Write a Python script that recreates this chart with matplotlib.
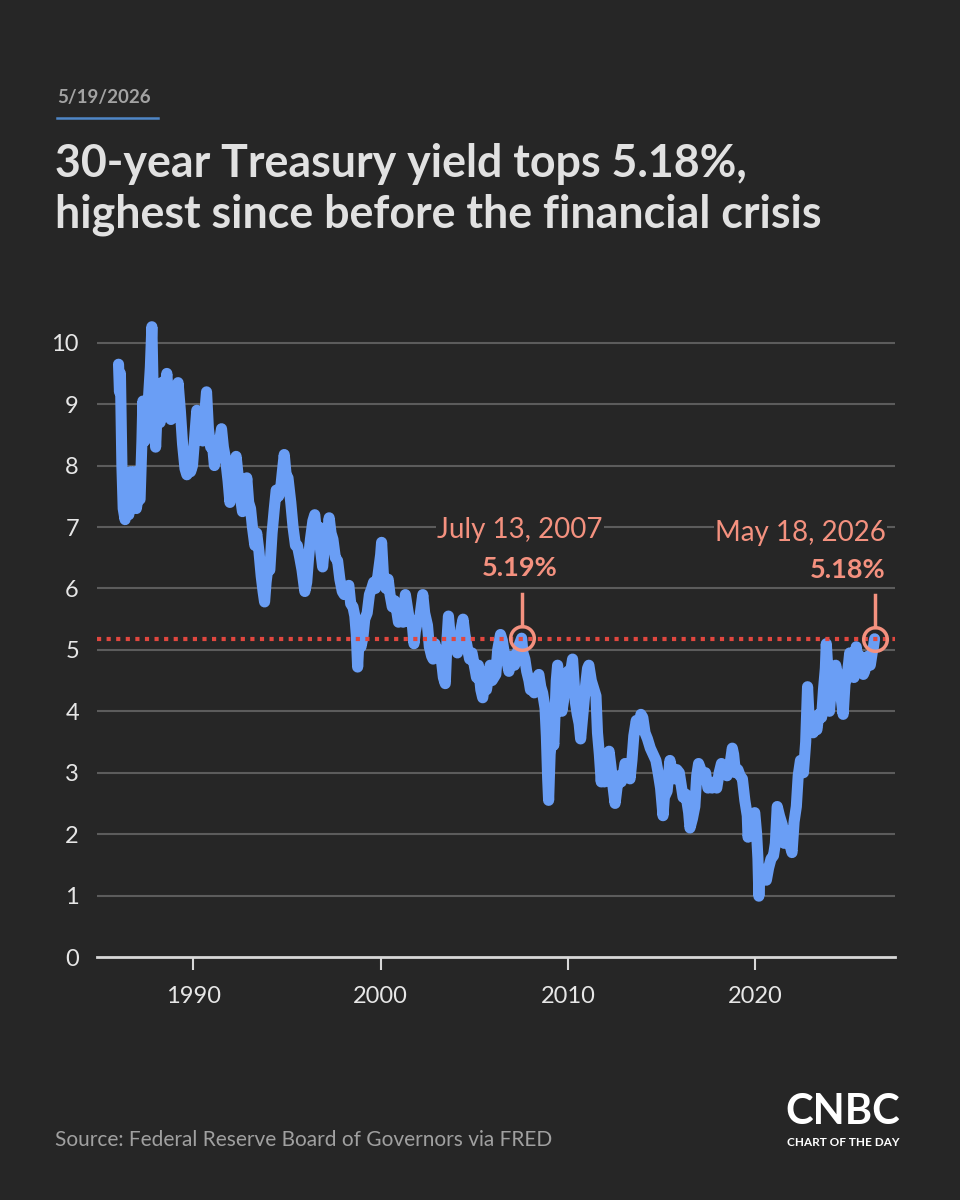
import matplotlib
matplotlib.use("Agg")
import matplotlib.pyplot as plt

plt.rcParams['font.family'] = ['Lato', 'DejaVu Sans']

bg = '#262626'
line_color = '#6a9ef5'
salmon = '#f4917f'
red = '#e0473f'

# 30-year yield (year as decimal, percent)
years = [
    1986.00, 1986.05, 1986.10, 1986.18, 1986.25, 1986.35, 1986.45, 1986.55, 1986.65, 1986.75,
    1986.85, 1986.95, 1987.05, 1987.15, 1987.25, 1987.30, 1987.40, 1987.50, 1987.60, 1987.70,
    1987.78, 1987.85, 1987.92, 1987.98, 1988.05, 1988.15, 1988.22, 1988.30, 1988.40, 1988.50,
    1988.58, 1988.68, 1988.80, 1988.92, 1989.05, 1989.18, 1989.30, 1989.42, 1989.55, 1989.65,
    1989.75, 1989.85, 1989.95, 1990.08, 1990.18, 1990.30, 1990.40, 1990.50, 1990.62, 1990.70,
    1990.80, 1990.92, 1991.00, 1991.12, 1991.25, 1991.40, 1991.50, 1991.60, 1991.72, 1991.85,
    1991.95, 1992.05, 1992.15, 1992.28, 1992.40, 1992.55, 1992.62, 1992.75, 1992.85, 1992.95,
    1993.05, 1993.15, 1993.28, 1993.38, 1993.50, 1993.62, 1993.72, 1993.80, 1993.88, 1993.98,
    1994.08, 1994.20, 1994.32, 1994.42, 1994.55, 1994.65, 1994.75, 1994.85, 1994.95, 1995.05,
    1995.20, 1995.32, 1995.45, 1995.55, 1995.68, 1995.80, 1995.95, 1996.05, 1996.15, 1996.25,
    1996.38, 1996.48, 1996.58, 1996.70, 1996.80, 1996.90, 1997.00, 1997.12, 1997.25, 1997.35,
    1997.45, 1997.58, 1997.70, 1997.82, 1997.95, 1998.05, 1998.15, 1998.30, 1998.40, 1998.52,
    1998.62, 1998.70, 1998.77, 1998.85, 1998.95, 1999.05, 1999.15, 1999.28, 1999.40, 1999.52,
    1999.62, 1999.72, 1999.85, 2000.00, 2000.05, 2000.15, 2000.28, 2000.40, 2000.50, 2000.62,
    2000.75, 2000.85, 2000.95, 2001.05, 2001.20, 2001.32, 2001.45, 2001.55, 2001.68, 2001.78,
    2001.85, 2001.95, 2002.10, 2002.25, 2002.35, 2002.50, 2002.60, 2002.72, 2002.80, 2002.90,
    2003.00, 2003.12, 2003.22, 2003.35, 2003.45, 2003.55, 2003.62, 2003.72, 2003.82, 2003.95,
    2004.10, 2004.20, 2004.30, 2004.40, 2004.50, 2004.62, 2004.75, 2004.88, 2005.00, 2005.12,
    2005.22, 2005.35, 2005.45, 2005.55, 2005.65, 2005.75, 2005.85, 2005.95, 2006.05, 2006.15,
    2006.25, 2006.40, 2006.50, 2006.60, 2006.72, 2006.85, 2006.95, 2007.05, 2007.15, 2007.30,
    2007.42, 2007.53, 2007.60, 2007.70, 2007.80, 2007.92, 2008.00, 2008.10, 2008.20, 2008.35,
    2008.45, 2008.55, 2008.65, 2008.78, 2008.85, 2008.92, 2008.97, 2009.05, 2009.15, 2009.25,
    2009.38, 2009.45, 2009.55, 2009.68, 2009.78, 2009.90, 2010.00, 2010.10, 2010.25, 2010.40,
    2010.50, 2010.60, 2010.68, 2010.80, 2010.92, 2011.05, 2011.12, 2011.25, 2011.40, 2011.50,
    2011.58, 2011.68, 2011.78, 2011.85, 2011.95, 2012.05, 2012.20, 2012.30, 2012.42, 2012.52,
    2012.62, 2012.72, 2012.85, 2012.95, 2013.05, 2013.20, 2013.32, 2013.42, 2013.52, 2013.65,
    2013.75, 2013.90, 2014.00, 2014.12, 2014.25, 2014.40, 2014.55, 2014.70, 2014.82, 2014.95,
    2015.08, 2015.15, 2015.30, 2015.45, 2015.55, 2015.70, 2015.82, 2015.95, 2016.05, 2016.15,
    2016.30, 2016.45, 2016.52, 2016.65, 2016.78, 2016.88, 2016.98, 2017.10, 2017.22, 2017.35,
    2017.48, 2017.60, 2017.70, 2017.82, 2017.95, 2018.08, 2018.20, 2018.35, 2018.50, 2018.62,
    2018.78, 2018.85, 2018.95, 2019.08, 2019.20, 2019.32, 2019.45, 2019.58, 2019.62, 2019.72,
    2019.85, 2019.98, 2020.08, 2020.15, 2020.20, 2020.25, 2020.38, 2020.50, 2020.60, 2020.72,
    2020.85, 2020.98, 2021.08, 2021.18, 2021.30, 2021.45, 2021.55, 2021.65, 2021.78, 2021.88,
    2021.97, 2022.08, 2022.20, 2022.30, 2022.42, 2022.50, 2022.58, 2022.70, 2022.80, 2022.88,
    2022.95, 2023.10, 2023.20, 2023.30, 2023.40, 2023.55, 2023.65, 2023.75, 2023.80, 2023.88,
    2023.97, 2024.05, 2024.15, 2024.30, 2024.40, 2024.50, 2024.60, 2024.70, 2024.80, 2024.90,
    2025.00, 2025.05, 2025.15, 2025.28, 2025.40, 2025.50, 2025.60, 2025.70, 2025.78, 2025.85,
    2025.95, 2026.05, 2026.15, 2026.25, 2026.32, 2026.38,
]
yields = [
    9.65, 9.20, 9.50, 8.00, 7.30, 7.12, 7.60, 7.20, 7.90, 7.50,
    7.90, 7.30, 7.50, 7.45, 8.40, 9.05, 8.40, 8.90, 9.10, 9.60,
    10.26, 9.20, 8.90, 8.30, 8.80, 9.20, 8.70, 9.35, 8.80, 9.30,
    9.50, 9.00, 8.75, 9.00, 8.95, 9.35, 8.90, 8.35, 7.95, 7.85,
    8.20, 7.90, 8.00, 8.50, 8.90, 8.60, 8.75, 8.40, 8.90, 9.20,
    8.60, 8.30, 8.40, 8.00, 8.30, 8.40, 8.60, 8.30, 8.10, 7.75,
    7.40, 7.80, 7.90, 8.15, 7.80, 7.40, 7.25, 7.50, 7.80, 7.40,
    7.30, 7.00, 6.70, 6.90, 6.60, 6.20, 5.95, 5.78, 6.10, 6.35,
    6.30, 6.90, 7.30, 7.60, 7.50, 7.60, 7.90, 8.18, 7.85, 7.80,
    7.40, 7.00, 6.70, 6.70, 6.50, 6.30, 5.95, 6.10, 6.50, 6.80,
    7.10, 7.20, 6.90, 7.00, 6.60, 6.35, 6.70, 6.80, 7.15, 6.90,
    6.80, 6.50, 6.45, 6.15, 5.95, 5.90, 5.95, 6.05, 5.75, 5.70,
    5.55, 5.25, 4.72, 5.20, 5.05, 5.20, 5.50, 5.60, 5.90, 6.00,
    6.10, 6.00, 6.20, 6.55, 6.75, 6.20, 6.00, 6.15, 5.90, 5.70,
    5.80, 5.65, 5.45, 5.55, 5.45, 5.90, 5.65, 5.45, 5.45, 5.10,
    5.30, 5.45, 5.55, 5.90, 5.60, 5.40, 5.05, 4.90, 4.85, 5.10,
    4.95, 5.00, 4.90, 4.55, 4.45, 5.20, 5.55, 5.20, 5.10, 5.10,
    4.95, 5.10, 5.35, 5.50, 5.25, 5.05, 4.85, 4.95, 4.75, 4.55,
    4.75, 4.35, 4.22, 4.45, 4.35, 4.55, 4.75, 4.50, 4.55, 4.60,
    5.00, 5.25, 5.15, 4.95, 4.85, 4.65, 4.80, 4.90, 4.75, 4.95,
    5.10, 5.19, 4.95, 4.85, 4.65, 4.50, 4.35, 4.45, 4.30, 4.55,
    4.60, 4.40, 4.30, 4.05, 3.60, 2.90, 2.55, 3.30, 3.60, 3.45,
    4.50, 4.75, 4.30, 4.00, 4.20, 4.50, 4.65, 4.55, 4.85, 4.15,
    3.95, 3.80, 3.55, 3.95, 4.35, 4.70, 4.75, 4.50, 4.35, 4.25,
    3.65, 3.30, 2.85, 3.20, 2.85, 3.15, 3.35, 3.10, 2.75, 2.50,
    2.75, 2.95, 2.85, 2.95, 3.15, 3.10, 2.90, 3.20, 3.60, 3.85,
    3.70, 3.95, 3.90, 3.65, 3.55, 3.40, 3.30, 3.20, 3.00, 2.75,
    2.30, 2.60, 2.70, 3.20, 3.05, 2.90, 3.05, 3.00, 2.80, 2.60,
    2.65, 2.35, 2.10, 2.25, 2.45, 2.95, 3.15, 3.05, 2.95, 3.00,
    2.75, 2.80, 2.75, 2.85, 2.75, 3.00, 3.15, 3.10, 2.95, 3.05,
    3.40, 3.30, 3.00, 3.05, 2.95, 2.90, 2.55, 2.30, 1.95, 2.10,
    2.30, 2.35, 2.00, 1.60, 0.99, 1.45, 1.35, 1.40, 1.25, 1.45,
    1.60, 1.65, 1.85, 2.45, 2.30, 2.15, 1.85, 1.90, 2.05, 1.80,
    1.70, 2.20, 2.45, 2.95, 3.20, 3.15, 3.00, 3.50, 4.40, 3.90,
    3.80, 3.65, 3.80, 3.70, 3.95, 3.90, 4.35, 4.70, 5.10, 4.70,
    4.00, 4.30, 4.40, 4.75, 4.60, 4.50, 4.20, 3.95, 4.45, 4.55,
    4.80, 4.95, 4.70, 4.55, 5.05, 4.80, 4.90, 4.70, 4.60, 4.65,
    4.80, 4.90, 4.75, 4.95, 5.05, 5.18,
]

y_ticks = [0, 1, 2, 3, 4, 5, 6, 7, 8, 9, 10]
x_ticks = [1990, 2000, 2010, 2020]
ref_level = 5.18
marks = [(2007.53, 5.19, 'July 13, 2007', '5.19%'),
         (2026.38, 5.18, 'May 18, 2026', '5.18%')]

fig = plt.figure(figsize=(9.6, 12), dpi=100)
fig.patch.set_facecolor(bg)

# header
fig.text(57 / 960, 1 - 97 / 1200, '5/19/2026', color='#a3a3a3', fontsize=13.5,
         fontweight='bold', va='center', ha='left')
fig.add_artist(plt.Line2D([57 / 960, 158 / 960], [1 - 118 / 1200, 1 - 118 / 1200],
                          color='#4f86c6', lw=1.8))
fig.text(55 / 960, 1 - 164 / 1200, '30-year Treasury yield tops 5.18%,', color='#e1e1e1',
         fontsize=32.2, fontweight='bold', va='center', ha='left')
fig.text(55 / 960, 1 - 215 / 1200, 'highest since before the financial crisis', color='#e1e1e1',
         fontsize=32.2, fontweight='bold', va='center', ha='left')

ax = fig.add_axes([97 / 960, 1 - 957 / 1200, 798 / 960, (957 - 312) / 1200])
ax.set_facecolor(bg)
ax.set_xlim(1984.85, 2027.47)
ax.set_ylim(0, 10.5)
for s in ['top', 'right', 'left']:
    ax.spines[s].set_visible(False)
ax.spines['bottom'].set_color('#d8d8d8')
ax.spines['bottom'].set_linewidth(2)

ax.set_yticks(y_ticks)
ax.set_yticklabels([str(v) for v in y_ticks])
ax.set_xticks(x_ticks)
ax.set_xticklabels([str(v) for v in x_ticks])
ax.tick_params(axis='y', length=0, pad=13, labelsize=17, labelcolor='#e6e6e6')
ax.tick_params(axis='x', length=9, width=1.5, color='#d8d8d8', pad=12, labelsize=17,
               labelcolor='#e6e6e6')
for v in y_ticks[1:]:
    ax.axhline(v, color='#5c5c5c', lw=1.5, zorder=1)

ax.plot(years, yields, color=line_color, lw=8, solid_joinstyle='round',
        solid_capstyle='round', zorder=3)
ax.axhline(ref_level, color=red, lw=3, ls=(0, (1, 1.3)), zorder=4)

for i, (x, y, date_txt, val_txt) in enumerate(marks):
    ax.plot([x], [y], marker='o', ms=17, mfc='none', mec=salmon, mew=2.5, zorder=5)
    ax.plot([x, x], [y + 0.2, y + 0.72], color=salmon, lw=2.5, zorder=5)
    if i == 0:
        ax.text(x - 0.1, 6.95, date_txt, color=salmon, fontsize=20, ha='center', va='center',
                zorder=6, bbox=dict(facecolor=bg, edgecolor='none', pad=1))
        ax.text(x - 0.1, 6.34, val_txt, color=salmon, fontsize=19.5, fontweight='bold',
                ha='center', va='center', zorder=6)
    else:
        ax.text(2026.98, 6.9, date_txt, color=salmon, fontsize=20, ha='right', va='center',
                zorder=6, bbox=dict(facecolor=bg, edgecolor='none', pad=1))
        ax.text(2026.98, 6.3, val_txt, color=salmon, fontsize=19.5, fontweight='bold',
                ha='right', va='center', zorder=6)

# footer
fig.text(55 / 960, 1 - 1140 / 1200, 'Source: Federal Reserve Board of Governors via FRED',
         color='#a0a0a0', fontsize=15, va='center', ha='left')
fig.text(843 / 960, 1 - 1112 / 1200, 'CNBC', color='white', fontsize=30, fontweight='bold',
         family=['Liberation Sans Narrow', 'Lato'], va='center', ha='center')
fig.text(843 / 960, 1 - 1143 / 1200, 'CHART OF THE DAY', color='white', fontsize=8.5,
         fontweight='bold', va='center', ha='center')

fig.savefig('out.png', dpi=100, facecolor=bg)
